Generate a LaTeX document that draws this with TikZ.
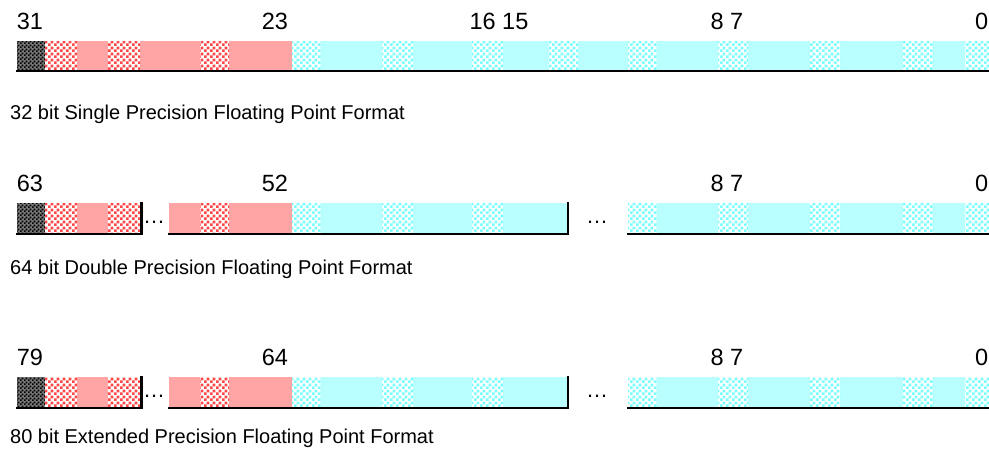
\documentclass[tikz,border=0pt]{standalone}
\usepackage{fontspec}
\setmainfont{Liberation Sans}
\usetikzlibrary{patterns.meta}
\definecolor{redc}{RGB}{255,70,70}
\definecolor{redf}{RGB}{255,165,165}
\definecolor{cyanc}{RGB}{120,255,255}
\definecolor{cyanf}{RGB}{185,255,255}
\definecolor{blkbg}{RGB}{120,120,120}
\tikzdeclarepattern{
  name=chk, type=uncolored,
  bottom left={(0pt,0pt)}, top right={(6pt,6pt)}, tile size={(6pt,6pt)},
  code={\fill (0pt,0pt) rectangle (3pt,3pt); \fill (3pt,3pt) rectangle (6pt,6pt);}
}
\tikzdeclarepattern{
  name=chksmall, type=uncolored,
  bottom left={(0pt,0pt)}, top right={(4pt,4pt)}, tile size={(4pt,4pt)},
  code={\fill (0pt,0pt) rectangle (2pt,2pt); \fill (2pt,2pt) rectangle (4pt,4pt);}
}
% coarse checker block: x1, x2, top, bottom, colour
\newcommand\coarseblk[5]{%
  \fill[white] (#1,#3) rectangle (#2,#4);
  \fill[pattern=chk, pattern color=#5] (#1,#3) rectangle (#2,#4);}
\newcommand\signblk[2]{%
  \fill[blkbg] (17,#1) rectangle (45,#2);
  \fill[pattern=chksmall, pattern color=black] (17,#1) rectangle (45,#2);}
\tikzset{
  numlbl/.style={inner sep=0pt, anchor=base, font=\fontsize{23.5}{28}\selectfont},
  caplbl/.style={inner sep=0pt, anchor=base west, font=\fontsize{20}{24}\selectfont},
  dotslbl/.style={inner sep=0pt, anchor=base, font=\fontsize{22}{26}\selectfont},
  baseline/.style={line width=2.6pt, line join=miter, line cap=rect},
}
\begin{document}
\begin{tikzpicture}[x=1pt,y=-1pt]
\useasboundingbox (0,0) rectangle (989,472);
% ---------------- Row 1 ----------------
\fill[redf] (45,41) rectangle (292,71);
\fill[cyanf] (292,41) rectangle (989,71);
\signblk{41}{71}
\foreach \a/\b in {45/77,108/140,200/229} {\coarseblk{\a}{\b}{41}{71}{redc}}
\foreach \a/\b in {292/321,382/413,472/503,548/578,628/657,718/748,810/840,903/933,965/989} {\coarseblk{\a}{\b}{41}{71}{cyanc}}
\coordinate (r1l) at (17,71);
\coordinate (r1r) at (989,71);
\draw[baseline] (r1l) -- (r1r);
\node[numlbl] (n31) at (30,29) {31};
\node[numlbl] (n23) at (275,29) {23};
\node[numlbl] (n1615) at (499,29) {16 15};
\node[numlbl] (n87a) at (727,29) {8 7};
\node[numlbl, anchor=base east] (n0a) at (988.5,29) {0};
\node[caplbl] (cap1) at (10,119) {32 bit Single Precision Floating Point Format};
% ---------------- Rows 2 and 3 ----------------
\foreach \T/\hi/\lo/\cap/\capy/\rn in {203/63/52/64 bit Double Precision Floating Point Format/274/2,
                                  377/79/64/80 bit Extended Precision Floating Point Format/443/3} {
  \pgfmathsetmacro{\B}{\T+31}
  \pgfmathsetmacro{\NB}{\T-12}
  \pgfmathsetmacro{\DB}{\T+20}
  % segment A
  \fill[redf] (45,\T) rectangle (141,\B);
  \signblk{\T}{\B}
  \foreach \a/\b in {45/77,108/140} {\coarseblk{\a}{\b}{\T}{\B}{redc}}
  % segment B
  \fill[redf] (169,\T) rectangle (292,\B);
  \fill[cyanf] (292,\T) rectangle (568,\B);
  \coarseblk{200}{229}{\T}{\B}{redc}
  \foreach \a/\b in {292/321,382/413,472/503} {\coarseblk{\a}{\b}{\T}{\B}{cyanc}}
  % segment C
  \fill[cyanf] (628,\T) rectangle (989,\B);
  \foreach \a/\b in {628/657,718/748,810/840,903/933,965/989} {\coarseblk{\a}{\b}{\T}{\B}{cyanc}}
  % lines
  \coordinate (a0\rn) at (17,\B);
  \coordinate (a1\rn) at (141.5,\B);
  \coordinate (a2\rn) at (141.5,\T);
  \coordinate (b0\rn) at (169,\B);
  \coordinate (b1\rn) at (568,\B);
  \coordinate (b2\rn) at (568,\T);
  \coordinate (c0\rn) at (628,\B);
  \coordinate (c1\rn) at (989,\B);
  \draw[baseline] (a0\rn) -- (a1\rn) -- (a2\rn);
  \draw[baseline] (b0\rn) -- (b1\rn) -- (b2\rn);
  \draw[baseline] (c0\rn) -- (c1\rn);
  \node[dotslbl] (d1\rn) at (154,\DB) {…};
  \node[dotslbl] (d2\rn) at (597,\DB) {…};
  % labels
  \node[numlbl] (hi\rn) at (30,\NB) {\hi};
  \node[numlbl] (lo\rn) at (275,\NB) {\lo};
  \node[numlbl] (e\rn) at (727,\NB) {8 7};
  \node[numlbl, anchor=base east] (z\rn) at (988.5,\NB) {0};
  \node[caplbl] (cap\rn) at (10,\capy) {\cap};
}
\end{tikzpicture}
\end{document}
